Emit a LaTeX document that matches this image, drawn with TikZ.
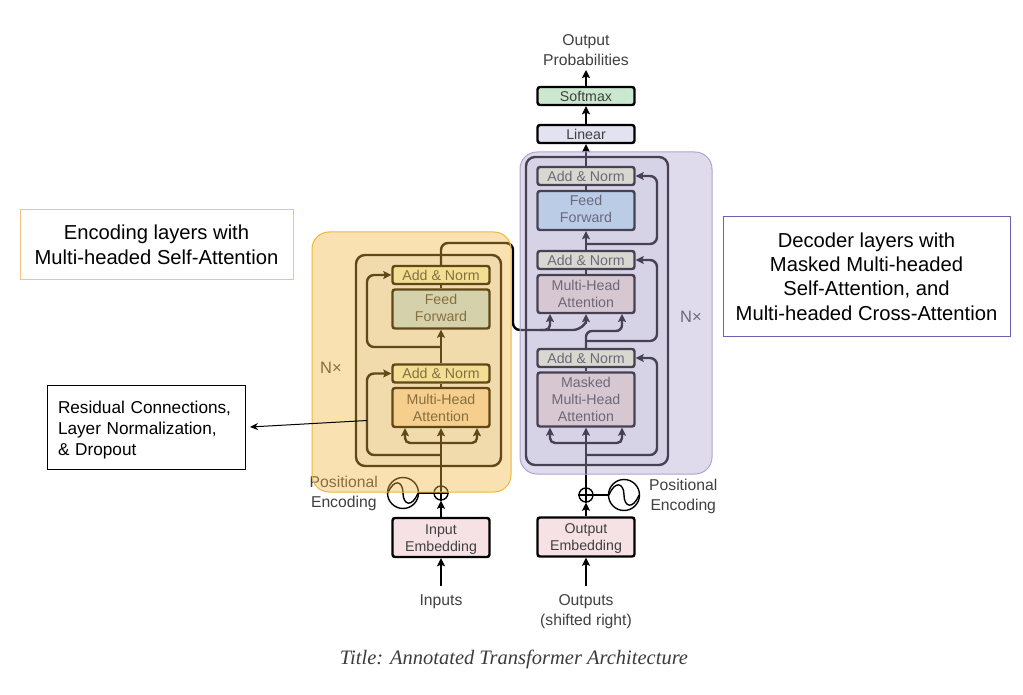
\documentclass[tikz,border=0pt]{standalone}
\usepackage{fontspec}
\setmainfont{Liberation Sans}
\newfontfamily\titlefont{Liberation Serif}
\usetikzlibrary{arrows.meta,calc}
\definecolor{ink}{HTML}{404040}
\definecolor{ovOrange}{RGB}{240,182,60}
\definecolor{ovPurple}{RGB}{175,165,208}
\definecolor{addnorm}{HTML}{F5FAD0}
\definecolor{ffblue}{HTML}{C4E6F6}
\definecolor{mhaOrange}{HTML}{FADEC3}
\definecolor{mhaPink}{HTML}{F3DFD3}
\definecolor{embed}{HTML}{F6E2E4}
\definecolor{softgreen}{HTML}{CBE8CF}
\definecolor{lineargray}{HTML}{E2E2F0}
\definecolor{innerfill}{HTML}{F3F3F5}
\tikzset{
  blockbox/.style={draw=black,line width=2.4pt,rounded corners=2.5pt,minimum width=97pt,inner sep=0pt,align=center,text=ink,font=\fontsize{14.2}{17}\selectfont},
  labeltext/.style={text=ink,align=center,inner sep=0pt,font=\fontsize{15.7}{20}\selectfont},
  innerbox/.style={draw=black,line width=2.4pt,rounded corners=9pt,fill=innerfill},
  conn/.style={draw=black,line width=2.4pt,rounded corners=7pt},
  arr/.style={conn,-{Stealth[length=8pt,width=8pt,inset=1.5pt]}},
  thin arr/.style={draw=black,line width=1pt,-{Stealth[length=8pt,width=7pt]}},
  sumnode/.style={draw=black,circle,line width=1.4pt,fill=white,minimum size=14pt,inner sep=0pt},
  sinenode/.style={draw=black,circle,line width=1.4pt,minimum size=31pt,inner sep=0pt},
  callout/.style={fill=white,inner sep=0pt,align=center,text=black},
}
\begin{document}
\begin{tikzpicture}[x=1pt,y=-1pt]
\fill[white] (0,0) rectangle (1023,695);
\useasboundingbox (0,0) rectangle (1023,695);

% inner stack frames
\node[innerbox,minimum width=145pt,minimum height=211pt] (encFrame) at (428.5,360.5) {};
\node[innerbox,minimum width=142pt,minimum height=308pt] (decFrame) at (597,311) {};

% encoder
\node[blockbox,fill=embed,minimum height=39pt] (inEmb) at (441,537.5) {\rule{0pt}{13pt}Input\\Embedding};
\node[blockbox,fill=mhaOrange,minimum height=39pt] (encMHA) at (441,407.5) {Multi-Head\\Attention};
\node[blockbox,fill=addnorm,minimum height=18pt] (encANb) at (441,373.5) {Add \& Norm};
\node[blockbox,fill=ffblue,minimum height=39pt] (encFF) at (441,309) {Feed\\Forward\rule[-2pt]{0pt}{1pt}};
\node[blockbox,fill=addnorm,minimum height=18pt] (encANt) at (441,275) {Add \& Norm};
\node[sumnode] (encSum) at (441,493) {};
\node[sinenode] (encSine) at (403,493) {};
\node[labeltext,anchor=east] (encPos) at (378,493) {Positional\\Encoding};
\node[labeltext] (inputs) at (441,601.5) {Inputs};
\node[labeltext,font=\fontsize{16.5}{20}\selectfont] (encN) at (331,368) {N×};

% decoder
\node[blockbox,fill=embed,minimum height=39pt] (outEmb) at (586,537) {\rule{0pt}{13pt}Output\\Embedding};
\node[blockbox,fill=mhaPink,minimum height=54pt] (decMasked) at (586,399.5) {Masked\\Multi-Head\\Attention};
\node[blockbox,fill=addnorm,minimum height=18pt] (decANb) at (586,358) {Add \& Norm};
\node[blockbox,fill=mhaPink,minimum height=38pt] (decMHA) at (586,294) {Multi-Head\\Attention};
\node[blockbox,fill=addnorm,minimum height=18pt] (decANm) at (586,260) {Add \& Norm};
\node[blockbox,fill=ffblue,minimum height=39pt] (decFF) at (586,210.5) {Feed\\Forward\rule[-4pt]{0pt}{1pt}};
\node[blockbox,fill=addnorm,minimum height=18pt] (decANt) at (586,176) {Add \& Norm};
\node[blockbox,fill=lineargray,minimum height=18pt] (linear) at (586,134) {Linear};
\node[blockbox,fill=softgreen,minimum height=18pt] (softmax) at (586,96) {Softmax};
\node[labeltext] (probs) at (586,50) {Output\\Probabilities};
\node[sumnode] (decSum) at (586,495) {};
\node[sinenode] (decSine) at (624,495) {};
\node[labeltext,anchor=west] (decPos) at (649,496) {Positional\\Encoding};
\node[labeltext] (outputs) at (586,611.5) {Outputs\\(shifted right)};
\node[labeltext,font=\fontsize{16.5}{20}\selectfont] (decN) at (691,317) {N×};

% helper coordinates
\coordinate (encFork) at (441,443);
\coordinate (encForkL) at (405,443);
\coordinate (encForkR) at (477,443);
\coordinate (encRes) at (441,455);
\coordinate (encResU) at (441,347);
\coordinate (decFork) at (586,443);
\coordinate (decForkL) at (550,443);
\coordinate (decForkR) at (622,443);
\coordinate (decRes) at (586,455);
\coordinate (decResM) at (586,341);
\coordinate (decResU) at (586,244);
\coordinate (inFoot) at (441,586);
\coordinate (outFoot) at (586,586);
\coordinate (probTop) at (586,70);

% plus signs and sines
\foreach \s in {encSum,decSum}{
  \draw[line width=1.2pt] (\s.north)--(\s.south) (\s.west)--(\s.east);
}
\draw[line width=1.4pt,shift={(encSine.center)}] (-15,0) .. controls (-9,-15) and (0,-12) .. (0,0) .. controls (0,12) and (9,15) .. (15,0);
\draw[line width=1.4pt,shift={(decSine.center)}] (-15,0) .. controls (-9,-15) and (0,-12) .. (0,0) .. controls (0,12) and (9,15) .. (15,0);
\draw[line width=1.8pt] (encSine.east) -- (encSum.west);
\draw[line width=1.8pt] (decSine.west) -- (decSum.east);

% encoder connectors
\draw[arr] (inFoot) -- (inEmb.south);
\draw[arr] (inEmb.north) -- (encSum.south);
\draw[arr] (encSum.north) -- (encMHA.south);
\draw[conn] (encMHA.north) -- (encANb.south);
\draw[arr] (encANb.north) -- (encFF.south);
\draw[conn] (encFF.north) -- (encANt.south);
\draw[arr] (encRes) -- (367,455) -- (367,373.5) -- (encANb.west);
\draw[arr] (encResU) -- (367,347) -- (367,275) -- (encANt.west);
\draw[arr,rounded corners=5pt] (encFork) -- (encForkL) -- (encForkL |- encMHA.south);
\draw[arr,rounded corners=5pt] (encFork) -- (encForkR) -- (encForkR |- encMHA.south);

% cross attention connector
\draw[conn] (encANt.north) -- (441,243) -- (513,243) -- (513,330) -- (580,330) -- (586,322);
\draw[arr] (586,324) -- (decMHA.south);
\draw[arr,rounded corners=5pt] (540,330) -- (550,330) -- (550,314);
\draw[arr,rounded corners=6pt] (decANb.north) -- (586,331) -- (622,331) -- (622,314);

% decoder connectors
\draw[arr] (outFoot) -- (outEmb.south);
\draw[arr] (outEmb.north) -- (decSum.south);
\draw[arr] (decSum.north) -- (decMasked.south);
\draw[conn] (decMasked.north) -- (decANb.south);
\draw[conn] (decMHA.north) -- (decANm.south);
\draw[arr] (decANm.north) -- (decFF.south);
\draw[conn] (decFF.north) -- (decANt.south);
\draw[arr] (decANt.north) -- (linear.south);
\draw[arr] (linear.north) -- (softmax.south);
\draw[arr] (softmax.north) -- (probTop);
\draw[arr] (decRes) -- (657,455) -- (657,358) -- (decANb.east);
\draw[arr] (decResM) -- (657,341) -- (657,260) -- (decANm.east);
\draw[arr] (decResU) -- (657,244) -- (657,176) -- (decANt.east);
\draw[arr,rounded corners=5pt] (decFork) -- (decForkL) -- (decForkL |- decMasked.south);
\draw[arr,rounded corners=5pt] (decFork) -- (decForkR) -- (decForkR |- decMasked.south);

% coloured overlays
\draw[draw=ovOrange,line width=1pt,fill=ovOrange,fill opacity=.4,rounded corners=17pt] (312,232) rectangle (511,492);
\draw[draw=ovPurple,line width=1pt,fill=ovPurple,fill opacity=.4,rounded corners=17pt] (520,152) rectangle (712,474);

% annotation boxes
\node[callout,draw={rgb,255:red,243;green,196;blue,127},line width=1pt,minimum width=273pt,minimum height=69pt,font=\fontsize{20.2}{25}\selectfont] (encNote) at (156.5,244.5) {Encoding layers with\\Multi-headed Self-Attention};
\node[callout,draw={rgb,255:red,110;green,95;blue,175},line width=1pt,minimum width=287pt,minimum height=119pt,font=\fontsize{20.2}{24.3}\selectfont] (decNote) at (866.5,276.5) {Decoder layers with\\Masked Multi-headed\\Self-Attention, and\\Multi-headed Cross-Attention};
\node[callout,draw=black,line width=1pt,minimum width=198pt,minimum height=84pt,font=\fontsize{17.2}{21}\selectfont,align=left,text width=176pt] (resNote) at (146,427) {\rule{0pt}{18pt}Residual Connections,\\Layer Normalization,\\\& Dropout};
\coordinate (resTail) at (367,420.5);
\coordinate (resTip) at (250,427);
\draw[thin arr] (resTail) -- (resTip);

\node[inner sep=0pt,text={rgb,255:red,60;green,60;blue,60},font=\titlefont\itshape\fontsize{20.5}{24}\selectfont] (title) at (514,659) {Title: Annotated Transformer Architecture};
\end{tikzpicture}
\end{document}
